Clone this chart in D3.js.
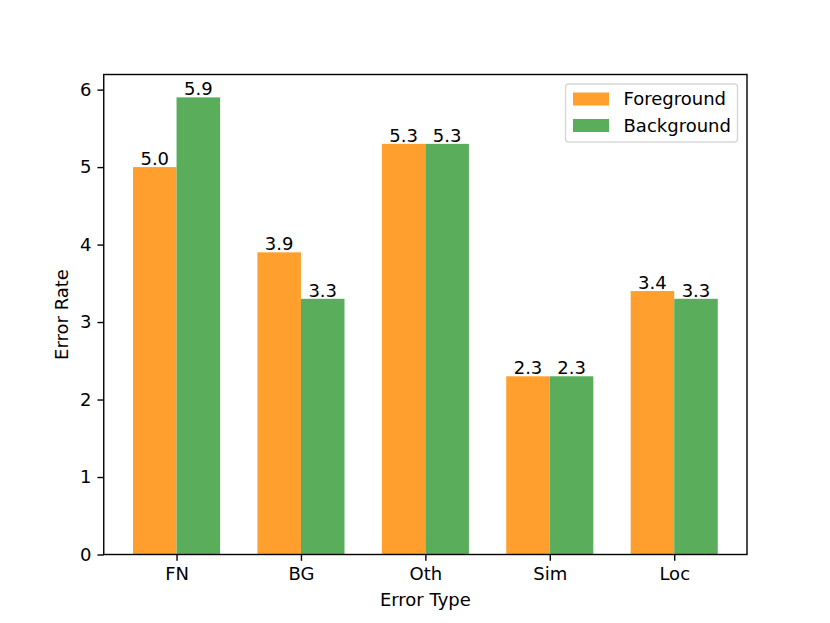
<!DOCTYPE html>
<html>
<head>
<meta charset="utf-8" />
<script src="https://cdn.jsdelivr.net/npm/d3@7/dist/d3.min.js"></script>
<style>
    html, body { margin: 0; padding: 0; background: #fff; }
    text { font-family: "DejaVu Sans", sans-serif; fill: #000; }
</style>
</head>
<body>
<div id="chart"></div>
<script>
    var categories = ['FN', 'BG', 'Oth', 'Sim', 'Loc'];
    var foreground = [5.0, 3.9, 5.3, 2.3, 3.4];
    var background = [5.9, 3.3, 5.3, 2.3, 3.3];
    var yTicks = [0, 1, 2, 3, 4, 5, 6];
    var seriesNames = ['Foreground', 'Background'];
    var seriesColors = ['#ffa02e', '#5aad5a'];

    var W = 830, H = 623;
    // plot box (note: "top" is reserved on window, so use pTop etc.)
    var pLeft = 103.75, pRight = 747, pTop = 74.5, pBottom = 554.5;
    var barW = 0.35;

    var svg = d3.select('#chart').append('svg')
        .attr('width', W).attr('height', H);

    // matplotlib-like limits: bars span -0.35..4.35 plus 5% margin
    var x = d3.scaleLinear().domain([-0.585, 4.585]).range([pLeft, pRight]);
    var y = d3.scaleLinear().domain([0, 6.195]).range([pBottom, pTop]);

    var series = [foreground, background];
    series.forEach(function (vals, s) {
        var off = s === 0 ? -barW : 0;
        var g = svg.append('g');
        g.selectAll('rect').data(vals).enter().append('rect')
            .attr('x', (d, i) => x(i + off))
            .attr('y', d => y(d))
            .attr('width', x(barW) - x(0))
            .attr('height', d => y(0) - y(d))
            .attr('fill', seriesColors[s]);
        g.selectAll('text').data(vals).enter().append('text')
            .attr('x', (d, i) => x(i + off + barW / 2))
            .attr('y', d => y(d) - 2)
            .attr('text-anchor', 'middle')
            .attr('font-size', 18)
            .text(d => d.toFixed(1));
    });

    // axes
    var xAxis = d3.axisBottom(x).tickValues(d3.range(categories.length))
        .tickFormat(i => categories[i]).tickSize(6.3).tickPadding(6);
    var yAxis = d3.axisLeft(y).tickValues(yTicks).tickFormat(d3.format('d'))
        .tickSize(6.3).tickPadding(6);

    var gx = svg.append('g').attr('transform', 'translate(0,' + pBottom + ')').call(xAxis);
    var gy = svg.append('g').attr('transform', 'translate(' + pLeft + ',0)').call(yAxis);
    [gx, gy].forEach(function (g) {
        g.select('.domain').remove();
        g.selectAll('line').attr('stroke', '#000').attr('stroke-width', 1.4);
        g.selectAll('text').attr('font-size', 18).attr('font-family', 'DejaVu Sans').attr('fill', '#000');
    });

    // frame
    svg.append('rect')
        .attr('x', pLeft).attr('y', pTop)
        .attr('width', pRight - pLeft).attr('height', pBottom - pTop)
        .attr('fill', 'none').attr('stroke', '#000').attr('stroke-width', 1.4);

    svg.append('text')
        .attr('x', (pLeft + pRight) / 2).attr('y', 606)
        .attr('text-anchor', 'middle').attr('font-size', 18)
        .text('Error Type');
    svg.append('text')
        .attr('transform', 'translate(68,' + (pTop + pBottom) / 2 + ') rotate(-90)')
        .attr('text-anchor', 'middle').attr('font-size', 18)
        .text('Error Rate');

    // legend
    var lg = svg.append('g').attr('transform', 'translate(565.5,84)');
    lg.append('rect').attr('width', 172).attr('height', 58).attr('rx', 3)
        .attr('fill', '#fff').attr('fill-opacity', 0.8)
        .attr('stroke', '#d8d8d8').attr('stroke-width', 1.4);
    seriesNames.forEach(function (name, i) {
        lg.append('rect').attr('x', 7.5).attr('y', 8.5 + i * 26.5)
            .attr('width', 36).attr('height', 13).attr('fill', seriesColors[i]);
        lg.append('text').attr('x', 58).attr('y', 21 + i * 26.5)
            .attr('font-size', 18).text(name);
    });
</script>
</body>
</html>
